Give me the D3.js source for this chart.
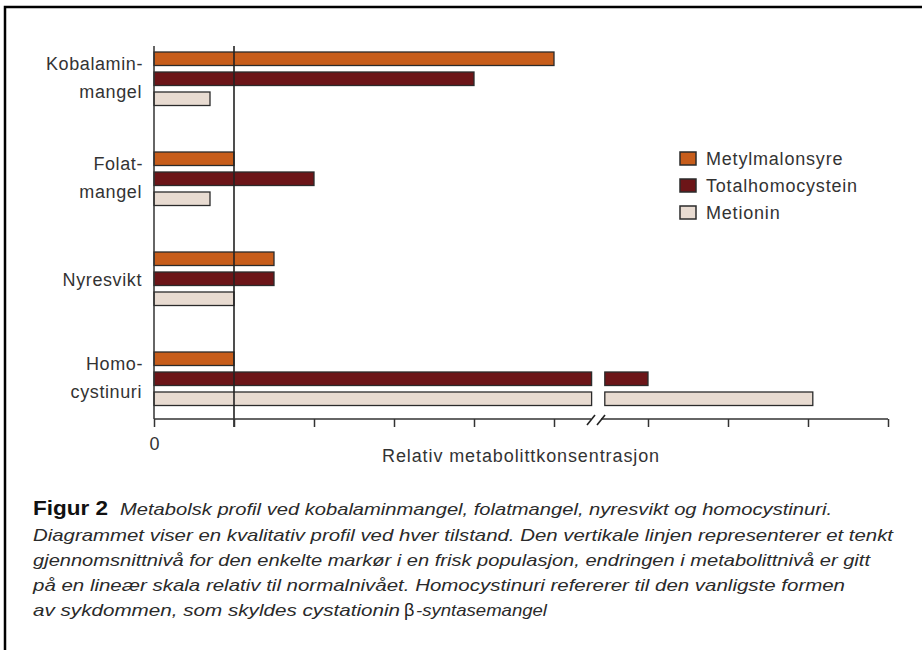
<!DOCTYPE html>
<html>
<head>
<meta charset="utf-8">
<script src="https://cdn.jsdelivr.net/npm/d3@7"></script>
<style>
body{margin:0;background:#fff}
svg text{font-family:"Liberation Sans",Arial,sans-serif}
</style>
</head>
<body>
<div id="graph"></div>
<script>
"use strict"
// categories (two-line labels split by "|")
var categories=["Kobalamin-|mangel","Folat-|mangel","Nyresvikt","Homo-|cystinuri"]
var series=["Metylmalonsyre","Totalhomocystein","Metionin"]
var colors=["#c75d1b","#6c1518","#e8dbd1"]
// relative concentration, 1 = normal level
var mma=[5,1,1.5,1]
var thcy=[4,2,1.5,10]
var met=[0.7,0.7,1,12.06]
var lowTicks=[0,1,2,3,4,5]
var highTicks=[10,11,12,13]
var breakLow=5.47,breakHigh=9.46
var caption=[
  "Metabolsk profil ved kobalaminmangel, folatmangel, nyresvikt og homocystinuri.",
  "Diagrammet viser en kvalitativ profil ved hver tilstand. Den vertikale linjen representerer et tenkt",
  "gjennomsnittnivå for den enkelte markør i en frisk populasjon, endringen i metabolittnivå er gitt",
  "på en lineær skala relativ til normalnivået. Homocystinuri refererer til den vanligste formen",
  "av sykdommen, som skyldes cystationin"
]

var svg=d3.select('#graph').append('svg').attr('width',922).attr('height',650)

// outer frame
svg.append('rect').attr('x',5).attr('y',7).attr('width',1000).attr('height',1000)
  .attr('fill','none').attr('stroke','#000').attr('stroke-width',2.5)

var x1=d3.scaleLinear().domain([0,5]).range([154,554])
var x2=d3.scaleLinear().domain([10,13]).range([648,888])
var yCat=d3.scaleBand().domain(categories).range([42,442])
var ySer=d3.scaleBand().domain(series).range([10,63.5]).paddingInner(0.325)
var axisY=419

function px(v){return v<=breakLow?x1(v):x2(v)}

// bars, split into two pieces when they cross the axis break
var rows=[]
categories.forEach(function(c,i){
  [mma[i],thcy[i],met[i]].forEach(function(v,j){
    if(v>breakLow){
      rows.push({c:c,s:j,a:0,b:breakLow})
      rows.push({c:c,s:j,a:breakHigh,b:v})
    }else rows.push({c:c,s:j,a:0,b:v})
  })
})
svg.append('g').selectAll('rect').data(rows).enter().append('rect')
  .attr('x',function(d){return px(d.a)})
  .attr('y',function(d){return yCat(d.c)+ySer(series[d.s])})
  .attr('width',function(d){return px(d.b)-px(d.a)})
  .attr('height',ySer.bandwidth())
  .attr('fill',function(d){return colors[d.s]})
  .attr('stroke','#2b2b2b').attr('stroke-width',1.3)

// y axis line and normal-level line
svg.append('line').attr('x1',x1(0)).attr('x2',x1(0)).attr('y1',46).attr('y2',axisY)
  .attr('stroke','#333').attr('stroke-width',1.5)
svg.append('line').attr('x1',x1(1)).attr('x2',x1(1)).attr('y1',46).attr('y2',axisY+8)
  .attr('stroke','#222').attr('stroke-width',1.6)

// broken x axis
var gLow=svg.append('g').attr('transform','translate(0,'+axisY+')')
  .call(d3.axisBottom(x1).tickValues(lowTicks).tickSizeOuter(0).tickSize(8)
    .tickFormat(function(d){return d===0?'0':''}))
gLow.select('.domain').attr('d','M'+x1(0)+',0H591')
var gHigh=svg.append('g').attr('transform','translate(0,'+axisY+')')
  .call(d3.axisBottom(x2).tickValues(highTicks).tickSizeOuter(0).tickSize(8).tickFormat(''))
gHigh.select('.domain').attr('d','M601,0H'+x2(13))
svg.selectAll('.domain,.tick line').attr('stroke','#333').attr('stroke-width',1.5)
svg.selectAll('.tick text').attr('font-size',18).attr('fill','#333').attr('dy','1.1em')
  .attr('font-family','"Liberation Sans",Arial,sans-serif')

// break marks
svg.selectAll('.brk').data([587,597]).enter().append('line')
  .attr('x1',function(d){return d}).attr('y1',axisY+6)
  .attr('x2',function(d){return d+8}).attr('y2',axisY-4)
  .attr('stroke','#222').attr('stroke-width',1.6)

// category labels
svg.append('g').selectAll('text').data(categories).enter().append('text')
  .attr('text-anchor','end').attr('font-size',18).attr('fill','#333').attr('letter-spacing',0.6)
  .each(function(c){
    var parts=c.split('|'),t=d3.select(this),mid=yCat(c)+37
    if(parts.length===1){
      t.append('tspan').attr('x',142).attr('y',mid+7).text(parts[0])
    }else{
      t.append('tspan').attr('x',143).attr('y',mid-9).text(parts[0])
      t.append('tspan').attr('x',142).attr('y',mid+19).text(parts[1])
    }
  })

// axis title
svg.append('text').attr('x',521).attr('y',462).attr('text-anchor','middle')
  .attr('font-size',18).attr('fill','#333').attr('letter-spacing',0.9)
  .text('Relativ metabolittkonsentrasjon')

// legend
var leg=svg.append('g').selectAll('g').data(series).enter().append('g')
  .attr('transform',function(d,i){return 'translate(680,'+(152+i*27)+')'})
leg.append('rect').attr('width',16).attr('height',13)
  .attr('fill',function(d,i){return colors[i]}).attr('stroke','#2b2b2b').attr('stroke-width',1.5)
leg.append('text').attr('x',26).attr('y',13).attr('font-size',18).attr('fill','#333')
  .attr('letter-spacing',0.8).text(function(d){return d})

// caption
var capFont='"Liberation Sans Narrow","DejaVu Sans Condensed",sans-serif'
svg.append('text').attr('x',33).attr('y',515).attr('font-size',20).attr('font-weight','bold')
  .attr('font-family',capFont).attr('fill','#111').attr('textLength',75)
  .attr('lengthAdjust','spacingAndGlyphs').text('Figur 2')
var capY=[515,541,566,591,616]
var capX=[120,33,33,33,33]
var capW=[712,860,837,812,367]
caption.forEach(function(s,i){
  svg.append('text').attr('x',capX[i]).attr('y',capY[i]).attr('font-size',17)
    .attr('font-style','italic').attr('font-family',capFont).attr('fill','#2a2a2a')
    .attr('textLength',capW[i]).attr('lengthAdjust','spacingAndGlyphs').text(s)
})
svg.append('text').attr('x',404).attr('y',capY[4]).attr('font-size',18)
  .attr('font-family','"DejaVu Sans",sans-serif').attr('fill','#222').text('β')
svg.append('text').attr('x',416).attr('y',capY[4]).attr('font-size',17)
  .attr('font-style','italic').attr('font-family',capFont).attr('fill','#2a2a2a')
  .attr('textLength',131).attr('lengthAdjust','spacingAndGlyphs').text('-syntasemangel')
</script>
</body>
</html>
